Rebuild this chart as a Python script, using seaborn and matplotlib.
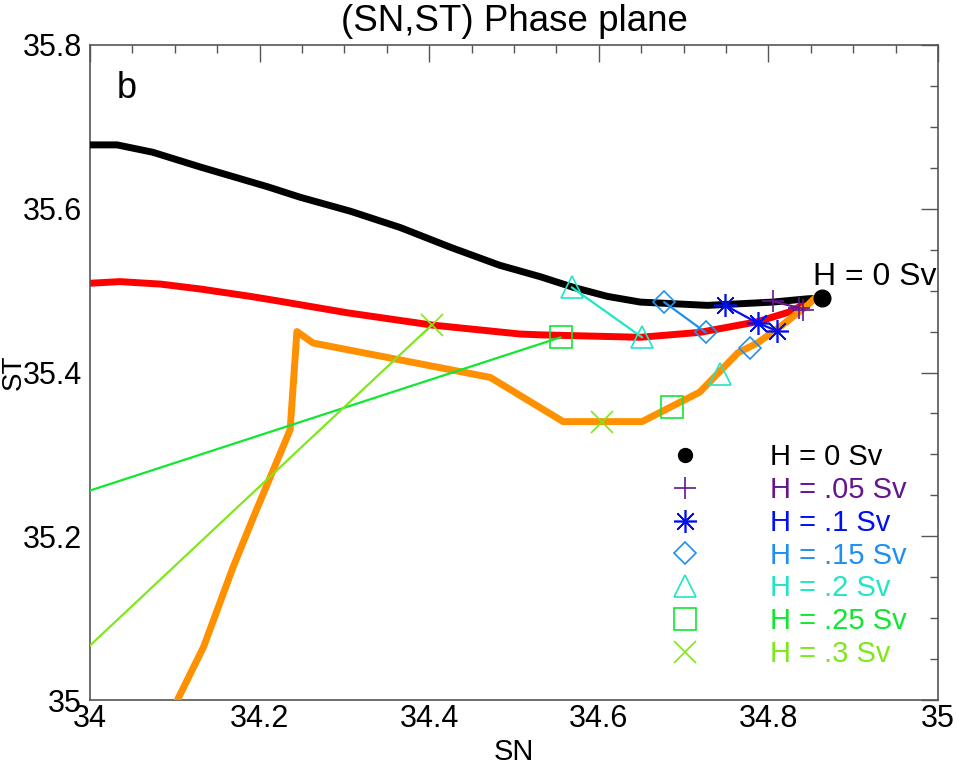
import matplotlib
matplotlib.use("Agg")
import matplotlib.pyplot as plt
from matplotlib.ticker import MultipleLocator
import seaborn as sns

# ---------------- data ----------------
black_sn = [33.95, 34.0, 34.032, 34.074, 34.130, 34.209, 34.248, 34.307, 34.366, 34.425, 34.483,
            34.531, 34.570, 34.610, 34.649, 34.688, 34.728, 34.767, 34.805, 34.846, 34.863]
black_st = [35.678, 35.678, 35.678, 35.669, 35.651, 35.627, 35.614, 35.597, 35.577, 35.553, 35.531,
            35.517, 35.504, 35.493, 35.486, 35.484, 35.482, 35.484, 35.486, 35.490, 35.491]

red_sn = [33.95, 34.0, 34.035, 34.083, 34.130, 34.189, 34.224, 34.303, 34.403, 34.507,
          34.531, 34.649, 34.719, 34.787, 34.825, 34.853]
red_st = [35.508, 35.509, 35.511, 35.508, 35.502, 35.493, 35.487, 35.473, 35.458, 35.447,
          35.446, 35.443, 35.449, 35.462, 35.474, 35.489]

orange_sn = [34.098, 34.104, 34.134, 34.169, 34.193, 34.236, 34.244, 34.263, 34.472, 34.558,
             34.651, 34.719, 34.764, 34.787, 34.814, 34.846, 34.855]
orange_st = [34.985, 35.002, 35.065, 35.163, 35.224, 35.330, 35.450, 35.436, 35.394, 35.340,
             35.340, 35.376, 35.424, 35.436, 35.456, 35.482, 35.491]

h_labels = ["H = 0 Sv", "H = .05 Sv", "H = .1 Sv", "H = .15 Sv", "H = .2 Sv", "H = .25 Sv", "H = .3 Sv"]
h_colors = ["#000000", "#64168f", "#0010f0", "#1e90f0", "#22e5c5", "#10e830", "#7fe81a"]

# marker points (first = on black trajectory, second = on red, third = on orange)
h0_sn, h0_st = [34.863], [35.491]
h05_sn, h05_st = [34.805, 34.836, 34.841], [35.487, 35.479, 35.476]
h10_sn, h10_st = [34.749, 34.788, 34.810], [35.482, 35.460, 35.451]
h15_sn, h15_st = [34.677, 34.726, 34.778], [35.486, 35.449, 35.430]
h20_sn, h20_st = [34.568, 34.651, 34.743], [35.504, 35.443, 35.398]
h25_sn, h25_st = [33.95, 34.555, 34.686], [35.239, 35.443, 35.358]
h30_sn, h30_st = [33.95, 34.403, 34.604], [35.018, 35.458, 35.340]

x_ticks = [34.0, 34.2, 34.4, 34.6, 34.8, 35.0]
x_ticklabels = ["34", "34.2", "34.4", "34.6", "34.8", "35"]
y_ticks = [35.0, 35.2, 35.4, 35.6, 35.8]
y_ticklabels = ["35", "35.2", "35.4", "35.6", "35.8"]

# ---------------- style ----------------
sns.set_theme(style="white")
plt.rcParams["font.family"] = ["Liberation Sans", "DejaVu Sans"]
plt.rcParams["text.color"] = "black"
plt.rcParams["axes.labelcolor"] = "black"

fig = plt.figure(figsize=(9.57, 7.67), dpi=100)
ax = fig.add_axes([90 / 957, 67 / 767, 848 / 957, 655 / 767])

# thick trajectories
sns.lineplot(x=red_sn, y=red_st, sort=False, estimator=None, color="#ff0000", linewidth=5, ax=ax, zorder=2)
sns.lineplot(x=black_sn, y=black_st, sort=False, estimator=None, color="#000000", linewidth=5, ax=ax, zorder=3)
sns.lineplot(x=orange_sn, y=orange_st, sort=False, estimator=None, color="#ff9000", linewidth=5, ax=ax, zorder=4)

# thin connector lines
conn = [
    (h05_sn[:2], h05_st[:2], h_colors[1]),
    (h10_sn, h10_st, h_colors[2]),
    (h15_sn[:2], h15_st[:2], h_colors[3]),
    (h20_sn[:2], h20_st[:2], h_colors[4]),
    (h25_sn[:2], h25_st[:2], h_colors[5]),
    (h30_sn[:2], h30_st[:2], h_colors[6]),
]
for xs, ys, c in conn:
    sns.lineplot(x=xs, y=ys, sort=False, estimator=None, color=c, linewidth=1.6, ax=ax, zorder=5)

markers = ["o", "+", (8, 2, 0), "D", "^", "s", "x"]
msizes = [12, 16, 16.5, 11.2, 16.5, 16.5, 16.5]
series = [(h0_sn, h0_st), (h05_sn, h05_st), (h10_sn, h10_st), (h15_sn, h15_st),
          (h20_sn, h20_st), (h25_sn, h25_st), (h30_sn, h30_st)]
for i, ((xs, ys), m, ms, c) in enumerate(zip(series, markers, msizes, h_colors)):
    if i == 0:
        ax.plot(xs, ys, linestyle="none", marker=m, ms=ms, color=c, zorder=7)
    else:
        ax.plot(xs, ys, linestyle="none", marker=m, ms=ms, mfc="none", mec=c, mew=1.2, zorder=6)

# axes limits & ticks
ax.set_xlim(34, 35)
ax.set_ylim(35, 35.8)
ax.set_xticks(x_ticks)
ax.set_xticklabels(x_ticklabels)
ax.set_yticks(y_ticks)
ax.set_yticklabels(y_ticklabels)
ax.xaxis.set_minor_locator(MultipleLocator(0.05))
ax.yaxis.set_minor_locator(MultipleLocator(0.05))
ax.tick_params(which="both", direction="in", top=True, right=True, color="#555555", width=1.0,
               labelsize=22, labelcolor="black")
ax.tick_params(which="major", length=12)
ax.tick_params(which="minor", length=6)
ax.tick_params(axis="x", pad=3)
ax.tick_params(axis="y", pad=6)
for s in ax.spines.values():
    s.set_color("#555555")
    s.set_linewidth(1.2)
    s.set_visible(True)

ax.set_title("(SN,ST) Phase plane", fontsize=26.5, pad=10, color="black")
ax.set_xlabel("SN", fontsize=21)
ax.set_ylabel("ST", fontsize=20)
ax.xaxis.set_label_coords(0.5, -0.058)
ax.xaxis.label.set_va("top")
ax.yaxis.set_label_coords(-0.075, 0.5)

ax.text(0.032, 0.919, "b", transform=ax.transAxes, fontsize=26, ha="left", va="baseline")
ax.text(0.853, 0.634, "H = 0 Sv", transform=ax.transAxes, fontsize=23, ha="left", va="baseline")

# legend (manual, in axes coordinates)
leg_msizes = [10, 16, 16.5, 11.2, 16.5, 16.5, 16.5]
for i, (lab, c, m, ms) in enumerate(zip(h_labels, h_colors, markers, leg_msizes)):
    ym = 0.374 - i * 0.0501
    if i == 0:
        ax.plot([0.702], [ym], marker=m, ms=ms, color=c, transform=ax.transAxes, clip_on=False, zorder=8)
    else:
        ax.plot([0.702], [ym], marker=m, ms=ms, mfc="none", mec=c, mew=1.2,
                transform=ax.transAxes, clip_on=False, zorder=8)
    ax.text(0.802, ym - 0.0155, lab, color=c, fontsize=21, transform=ax.transAxes,
            ha="left", va="baseline")

fig.savefig("out.png", dpi=100)
